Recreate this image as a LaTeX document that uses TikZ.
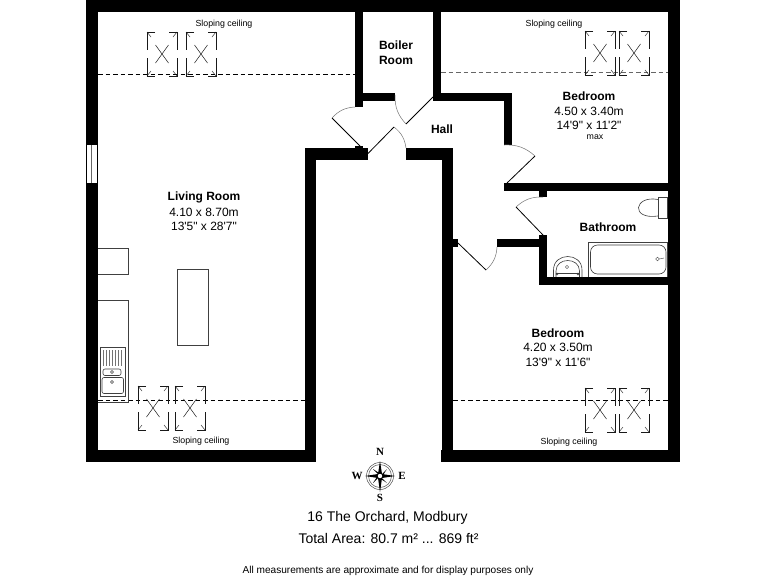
\documentclass[tikz,border=0pt]{standalone}
\usepackage{fontspec}
\newfontfamily\planfont{Liberation Sans}
\newfontfamily\compassfont{Liberation Serif}
\usetikzlibrary{positioning}
\tikzset{
  wall/.style={fill=black},
  fitting/.style={draw=black!75,line width=0.6pt},
  leaf/.style={draw=black,line width=0.8pt},
  swing/.style={draw=black!55,line width=0.5pt,bend left=22},
  slope/.style={draw=black,line width=0.8pt,dash pattern=on 4.5pt off 3pt},
  roomname/.style={font=\planfont\bfseries\fontsize{12}{14}\selectfont,inner sep=0pt,align=center},
  roomsize/.style={font=\planfont\fontsize{12}{14}\selectfont,inner sep=0pt},
  ceiling/.style={font=\planfont\fontsize{8.8}{10}\selectfont,inner sep=0pt},
  caption/.style={font=\planfont\fontsize{14}{16}\selectfont,inner sep=0pt},
  point/.style={font=\compassfont\bfseries\fontsize{11}{12}\selectfont,inner sep=0pt}
}
\newcommand{\skylight}[1]{%
  \begin{scope}[shift={#1},line width=0.8pt,draw=black!90]
    \draw (8,0)--(0,0)--(0,18);
    \draw (22,0)--(30,0)--(30,18);
    \draw (0,26)--(0,44)--(8,44);
    \draw (30,26)--(30,44)--(22,44);
    \draw[line width=0.4pt] (0,0)--(4,5) (30,0)--(26,5) (0,44)--(4,39) (30,44)--(26,39);
    \draw[line width=0.5pt] (8.5,13)--(21.5,31) (21.5,13)--(8.5,31);
  \end{scope}}
\begin{document}
\begin{tikzpicture}[x=1pt,y=-1pt,line cap=butt,line join=miter]
\useasboundingbox[fill=white] (0,0) rectangle (768,576);
% sloping ceiling lines
\draw[slope] (98,74.5)--(355,74.5);
\draw[slope,draw=black!60] (441,72.5)--(668,72.5);
\draw[slope] (98,400)--(305,400);
\draw[slope] (453,400)--(668,400);
% walls
\fill[wall] (86,0) rectangle (680,12);
\fill[wall] (86,0) rectangle (98,462);
\fill[wall] (668,0) rectangle (680,462);
\fill[wall] (86,450) rectangle (316,462);
\fill[wall] (441,450) rectangle (680,462);
\fill[wall] (305,148) rectangle (316,462);
\fill[wall] (441.5,148) rectangle (453,462);
\fill[wall] (305,148) rectangle (367.5,160);
\fill[wall] (406,148) rectangle (453,160);
\fill[wall] (355,146) rectangle (363,148);
\fill[wall] (355,12) rectangle (363,107);
\fill[wall] (355,93) rectangle (395,100.5);
\fill[wall] (433,12) rectangle (441,100.5);
\fill[wall] (433,93) rectangle (512,100.5);
\fill[wall] (504,93) rectangle (512,145);
\fill[wall] (504,183) rectangle (680,191);
\fill[wall] (539,191) rectangle (547,196.5);
\fill[wall] (539,235) rectangle (547,285);
\fill[wall] (539,277) rectangle (680,285);
\fill[wall] (497,239) rectangle (547,247);
\fill[wall] (453,239) rectangle (458,247);
% window
\fill[white] (87,145) rectangle (97,183);
\draw[black!60,line width=1.4pt] (91.5,145)--(91.5,183);
% doors
\draw[leaf] (360,146)--(332,118);
\draw[swing] (332,118) to (355,107);
\draw[leaf] (368,153.5)--(394,127);
\draw[swing] (394,127) to (406,148);
\draw[leaf] (433,97)--(406,124);
\draw[swing] (406,124) to (395,95);
\draw[leaf] (507,183)--(535,156);
\draw[swing] (504,145) to (535,156);
\draw[leaf] (543,235)--(516,207);
\draw[swing] (516,207) to (543,197);
\draw[leaf] (458,243)--(486,270);
\draw[swing] (497,247) to (486,270);
% roof windows
\skylight{(147,32)}
\skylight{(186,32)}
\skylight{(585,31)}
\skylight{(619,31)}
\skylight{(138,386)}
\skylight{(175,386)}
\skylight{(585,388)}
\skylight{(619,388)}
% kitchen
\draw[fitting] (98,248)--(128.5,248)--(128.5,274)--(98,274);
\draw[fitting] (177.5,269)rectangle(208.5,345);
\draw[fitting] (98,300)--(128,300)--(128,402)--(98,402);
\draw[fitting] (100,347.5) rectangle (125.5,396);
\foreach \xline in {103,106,109,112,115,118,121}
  \draw[black!55,line width=0.4pt] (\xline,350)--(\xline,366);
\draw[fitting,rounded corners=2pt] (103,369) rectangle (121,375.5);
\draw[fitting,rounded corners=2pt] (102,377.5) rectangle (123.5,393.5);
\draw[fitting,line width=0.4pt] (112,372) circle (1.5) (112,382) circle (1.5);
% bathroom
\draw[fitting] (658,197.5) rectangle (667,218);
\draw[fitting] (658,199.5) .. controls (634,195) and (630,220) .. (658,216);
\draw[fitting] (588,277)--(588,242)--(667,242)--(667,277);
\draw[fitting,rounded corners=7pt] (590.5,245) rectangle (666,274);
\draw[fitting,line width=0.4pt] (657.5,259) circle (1.8) (659.5,259)--(664,258);
\draw[fitting] (553.5,277)--(553.5,270) .. controls (553.5,252) and (582,252) .. (582,270)--(582,277);
\draw[fitting] (556,277)--(556,271) .. controls (556,257) and (579.5,257) .. (579.5,271)--(579.5,277);
\draw[fitting] (556,273)--(579.5,273);
\draw[fitting,line width=0.4pt] (567,267) circle (1.6) (557,274) circle (1) (578,274) circle (1);
% compass
\draw[black!70,line width=0.5pt] (380,476) circle (13.5);
\draw[black!70,line width=0.5pt] (380,476) circle (11.5);
\fill[black] (380,461)--(382,474)--(395,476)--(382,478)--(380,492)--(378,478)--(365,476)--(378,474)--cycle;
\fill[black] (373,469)--(381.5,474.5)--(387,469)--(381.5,477.5)--(387,483)--(378.5,477.5)--(373,483)--(378.5,474.5)--cycle;
\fill[white] (380,476) circle (2.2);
\node[point] (north) at (380,452) {N};
\node[point] (south) at (380,498) {S};
\node[point] (west) at (357,476) {W};
\node[point] (east) at (402,476) {E};
% text
\node[ceiling] (slopea) at (224,24) {Sloping ceiling};
\node[ceiling] (slopeb) at (554,24) {Sloping ceiling};
\node[ceiling] (slopec) at (201,441) {Sloping ceiling};
\node[ceiling] (sloped) at (569,442) {Sloping ceiling};
\node[roomname,text width=50pt] (boiler) at (396,52.5) {Boiler\\[1pt]Room};
\node[roomname] (hall) at (442,129) {Hall};
\node[roomname] (bedone) at (589,96.5) {Bedroom};
\node[roomsize] (bedonem) at (589,111) {4.50 x 3.40m};
\node[roomsize] (bedonef) at (589,125) {14'9" x 11'2"};
\node[ceiling] (bedonemax) at (595,137) {max};
\node[roomname] (living) at (204,197.5) {Living Room};
\node[roomsize] (livingm) at (204,212) {4.10 x 8.70m};
\node[roomsize] (livingf) at (204,226) {13'5" x 28'7"};
\node[roomname] (bath) at (608,227) {Bathroom};
\node[roomname] (bedtwo) at (558,333) {Bedroom};
\node[roomsize] (bedtwom) at (558,347) {4.20 x 3.50m};
\node[roomsize] (bedtwof) at (558,362) {13'9" x 11'6"};
\node[caption] (address) at (387.5,518) {16 The Orchard, Modbury};
\node[caption] (area) at (388.5,538) {Total Area: 80.7 m² ... 869 ft²};
\node[font=\planfont\fontsize{10.1}{12}\selectfont,inner sep=0pt] (note) at (388,571) {All measurements are approximate and for display purposes only};
\end{tikzpicture}
\end{document}
